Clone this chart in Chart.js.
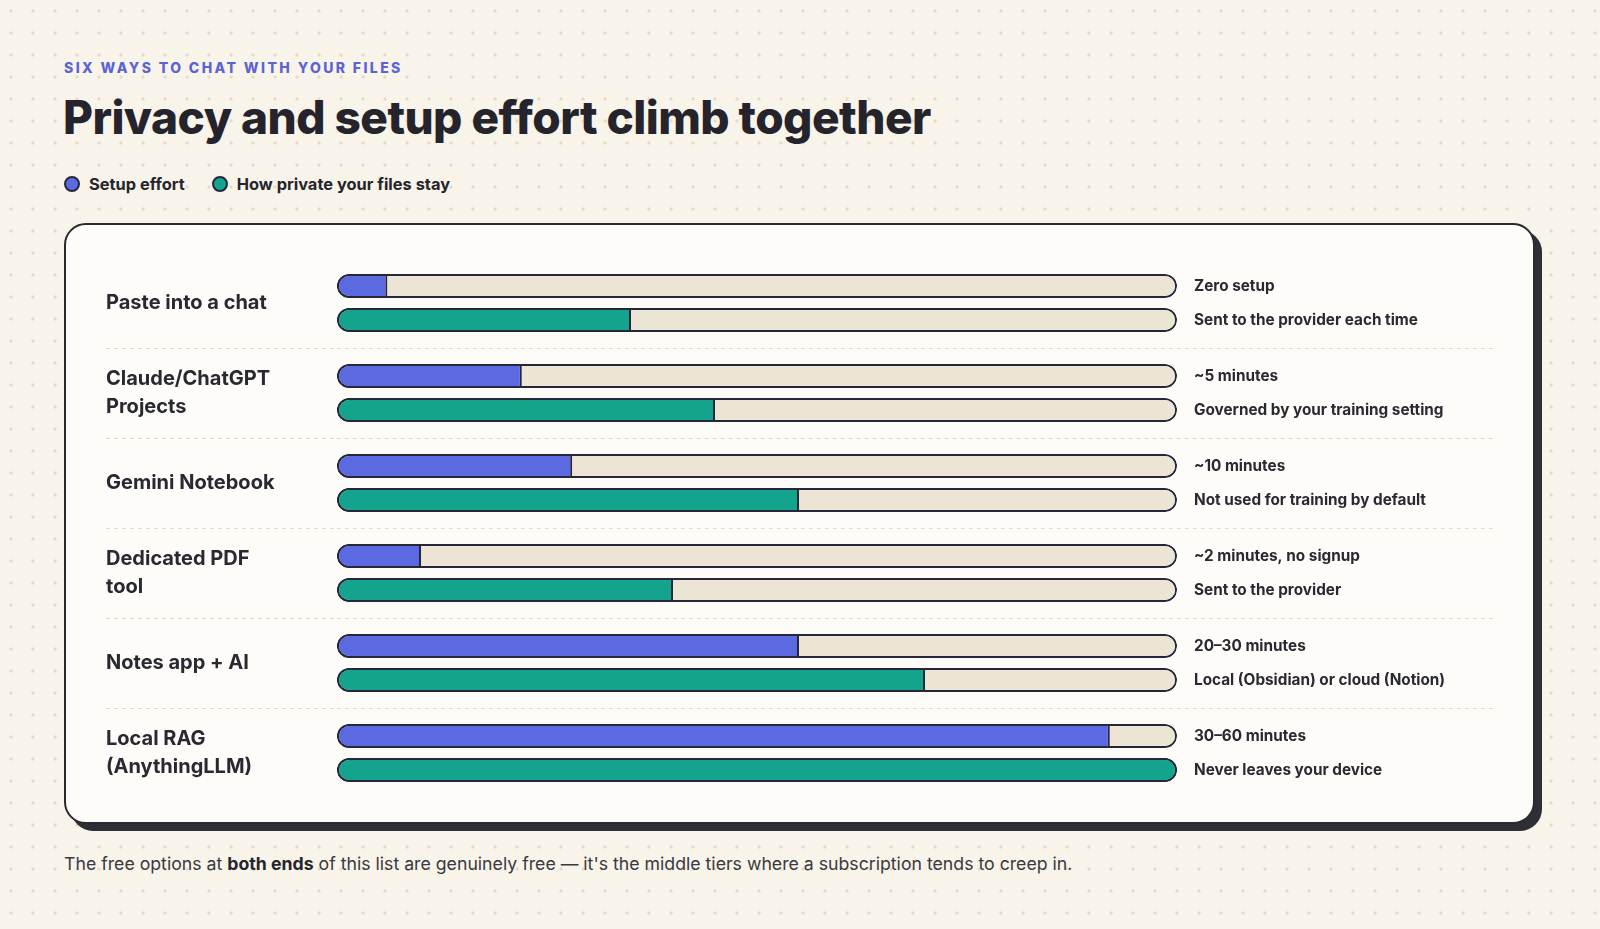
<!DOCTYPE html>
<html>
<head>
<meta charset="utf-8">
<script src="https://cdn.jsdelivr.net/npm/chart.js@4/dist/chart.umd.min.js"></script>
<style>
  html, body { margin: 0; padding: 0; }
  body {
    width: 1600px; height: 929px; overflow: hidden; position: relative;
    background-color: #f8f4ea;
    background-image: radial-gradient(circle, #e3dccb 0, #e3dccb 1.3px, rgba(248,244,234,0) 1.9px);
    background-size: 22px 22px;
    background-position: 0 0;
    font-family: Inter, "Open Sans", sans-serif;
    color: #26242c;
  }
  .eyebrow {
    position: absolute; left: 64px; top: 58px; line-height: 20px;
    font-size: 14px; font-weight: 800; letter-spacing: 2.4px; color: #5b63d6;
  }
  .title {
    position: absolute; left: 63px; top: 89px; line-height: 56px;
    font-size: 46px; font-weight: 800; letter-spacing: -0.55px; color: #25232b;
  }
  .legend { position: absolute; top: 172px; left: 64px; height: 24px; display: flex; align-items: center; font-size: 16.4px; font-weight: 700; }
  .legend .item { display: flex; align-items: center; margin-right: 27px; }
  .legend .dot { width: 12px; height: 12px; border-radius: 50%; border: 2px solid #26283a; margin-right: 9px; }
  .card {
    position: absolute; left: 64px; top: 223px; width: 1467px; height: 597px;
    border: 2px solid #2a2a31; border-radius: 22px; background: #fdfcf8;
    box-shadow: 7px 7px 0 #2e2e36;
  }
  .footer {
    position: absolute; left: 64px; top: 851px; line-height: 26px;
    font-size: 17.7px; font-weight: 400; color: #3a3840;
  }
  .footer b { font-weight: 700; color: #26242c; }
  canvas { position: absolute; left: 0; top: 0; }
</style>
</head>
<body>
<div class="eyebrow">SIX WAYS TO CHAT WITH YOUR FILES</div>
<div class="title">Privacy and setup effort climb together</div>
<div class="legend" id="legend"></div>
<div class="card"></div>
<div class="footer">The free options at <b>both ends</b> of this list are genuinely free — it's the middle tiers where a subscription tends to creep in.</div>
<canvas id="chart" width="1600" height="929"></canvas>
<script>
// ---- data ----
const categories = [
  ["Paste into a chat"],
  ["Claude/ChatGPT", "Projects"],
  ["Gemini Notebook"],
  ["Dedicated PDF", "tool"],
  ["Notes app + AI"],
  ["Local RAG", "(AnythingLLM)"]
];
const seriesNames = ["Setup effort", "How private your files stay"];
const setupEffort = [6, 22, 28, 10, 55, 92];
const privacy = [35, 45, 55, 40, 70, 100];
const trackMax = [100, 100, 100, 100, 100, 100];
const setupNotes = ["Zero setup", "~5 minutes", "~10 minutes", "~2 minutes, no signup", "20–30 minutes", "30–60 minutes"];
const privacyNotes = ["Sent to the provider each time", "Governed by your training setting", "Not used for training by default", "Sent to the provider", "Local (Obsidian) or cloud (Notion)", "Never leaves your device"];

// ---- styles ----
const FONT = 'Inter, "Open Sans", sans-serif';
const INK = '#26283a';
const TEXT = '#2a2830';
const BLUE = '#5b6ae0';
const TEAL = '#14a38c';
const TRACK = '#ece4d4';
const GRID = '#dedad0';

// legend (html)
const legendEl = document.getElementById('legend');
[[seriesNames[0], BLUE], [seriesNames[1], TEAL]].forEach(([name, c]) => {
  const it = document.createElement('div'); it.className = 'item';
  const d = document.createElement('span'); d.className = 'dot'; d.style.background = c;
  const t = document.createElement('span'); t.textContent = name;
  it.appendChild(d); it.appendChild(t); legendEl.appendChild(it);
});

const fillRadius = (ctx) => {
  const v = ctx.raw;
  return v >= 100 ? 12 : { topLeft: 12, bottomLeft: 12, topRight: 0, bottomRight: 0 };
};

const common = {
  borderColor: INK, borderWidth: 2, borderSkipped: false,
  categoryPercentage: 0.756, barPercentage: 0.706
};

const gridColor = (ctx) => (ctx.type !== 'tick' || ctx.index === 0) ? 'rgba(0,0,0,0)' : GRID;

const notesPlugin = {
  id: 'notes',
  afterDatasetsDraw(chart) {
    const { ctx, chartArea } = chart;
    ctx.save();
    ctx.font = '700 15.3px ' + FONT;
    ctx.fillStyle = TEXT;
    ctx.textBaseline = 'middle';
    ctx.textAlign = 'left';
    [[0, setupNotes], [1, privacyNotes]].forEach(([di, notes]) => {
      chart.getDatasetMeta(di).data.forEach((el, i) => {
        ctx.fillText(notes[i], chartArea.right + 17, el.y);
      });
    });
    ctx.restore();
  }
};

new Chart(document.getElementById('chart'), {
  type: 'bar',
  data: {
    labels: categories,
    datasets: [
      Object.assign({ label: seriesNames[0], data: setupEffort, stack: 'a', backgroundColor: BLUE, borderRadius: fillRadius }, common),
      Object.assign({ label: seriesNames[1], data: privacy, stack: 'b', backgroundColor: TEAL, borderRadius: fillRadius }, common),
      Object.assign({ label: 'track a', data: trackMax, stack: 'a', backgroundColor: TRACK, borderRadius: 12 }, common),
      Object.assign({ label: 'track b', data: trackMax, stack: 'b', backgroundColor: TRACK, borderRadius: 12 }, common)
    ]
  },
  options: {
    indexAxis: 'y',
    responsive: false,
    animation: false,
    devicePixelRatio: 1,
    layout: { padding: { left: 106, right: 105, top: 258, bottom: 131 } },
    plugins: { legend: { display: false }, tooltip: { enabled: false } },
    scales: {
      x: { display: false, min: 0, max: 100, stacked: false },
      y: {
        type: 'category', position: 'left', offset: true,
        grid: {
          offset: true, drawTicks: true, tickLength: 231, drawOnChartArea: true,
          color: gridColor, tickColor: gridColor, lineWidth: 1, tickWidth: 1,
          tickBorderDash: [4, 4]
        },
        border: { display: false, dash: [4, 4] },
        ticks: {
          autoSkip: false, crossAlign: 'far', padding: 0, color: TEXT,
          font: { family: FONT, size: 20, weight: '700', lineHeight: 1.43 }
        },
        afterFit: (s) => { s.width = 231; }
      },
      y2: {
        type: 'category', position: 'right', offset: true, labels: categories,
        grid: {
          offset: true, drawTicks: true, tickLength: 318, drawOnChartArea: false,
          color: gridColor, tickColor: gridColor, tickWidth: 1, tickBorderDash: [4, 4]
        },
        border: { display: false },
        ticks: { display: false },
        afterFit: (s) => { s.width = 318; }
      }
    }
  },
  plugins: [notesPlugin]
});
</script>
</body>
</html>
